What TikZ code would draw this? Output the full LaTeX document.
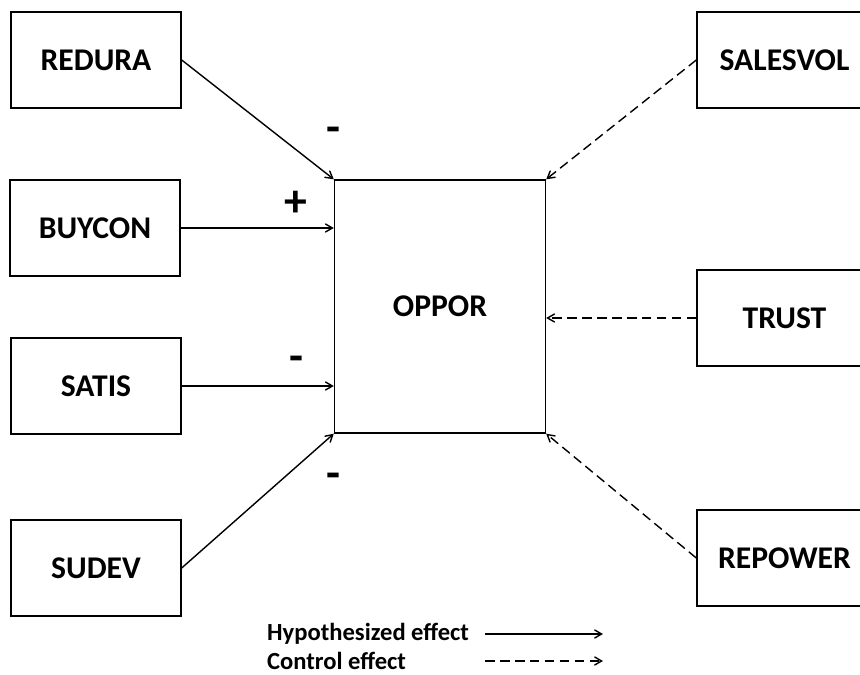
\documentclass[tikz,border=0pt]{standalone}
\usepackage{fontspec}
\setmainfont{Carlito}
\usepackage{tikz}
\usetikzlibrary{arrows, positioning}
\tikzset{
  varbox/.style={draw, line width=0.8pt, minimum width=170*0.02cm, minimum height=96*0.02cm, font=\fontsize{18}{20}\selectfont\bfseries},
  hypo/.style={->, line width=0.8pt},
  ctrl/.style={->, line width=0.8pt, dash pattern=on 5.5pt off 3pt},
  sign/.style={font=\fontsize{26}{28}\selectfont\bfseries, inner sep=0pt}
}

\begin{document}
\begin{tikzpicture}[x=0.02cm, y=-0.02cm, >=angle 60]
\clip (0,0) rectangle (860,675);
% predictors
\node[varbox] (redura) at (96,60) {REDURA};
\node[varbox] (buycon) at (95,228) {BUYCON};
\node[varbox] (satis) at (96,386) {SATIS};
\node[varbox] (sudev) at (96,568) {SUDEV};
% outcome
\node[varbox, minimum width=211*0.02cm, minimum height=253*0.02cm] (oppor) at (440,306.5) {OPPOR};
% controls
\node[varbox, minimum width=175*0.02cm] (salesvol) at (784.5,60) {SALESVOL\hspace{6pt}};
\node[varbox, minimum width=175*0.02cm] (trust) at (784.5,318) {TRUST\hspace{6pt}};
\node[varbox, minimum width=175*0.02cm] (repower) at (784.5,558) {REPOWER\hspace{6pt}};
% signs
\node[sign] (s1) at (333,135) {-};
\node[sign] (s2) at (296,204) {+};
\node[sign] (s3) at (296,364) {-};
\node[sign] (s4) at (333,481) {-};
% hypothesized effects
\draw[hypo] (redura.east) -- (oppor.north west);
\draw[hypo] (buycon) -- (buycon -| oppor.west);
\draw[hypo] (satis) -- (satis -| oppor.west);
\draw[hypo] (sudev.east) -- (oppor.south west);
% control effects
\draw[ctrl] (salesvol.west) -- (oppor.north east);
\draw[ctrl] (trust) -- (trust -| oppor.east);
\draw[ctrl] (repower.west) -- (oppor.south east);
% legend
\node[anchor=west, font=\fontsize{14}{16}\selectfont\bfseries] (lhypo) at (261,634) {Hypothesized effect};
\node[anchor=west, font=\fontsize{14}{16}\selectfont\bfseries] (lctrl) at (261,661) {Control effect};
\coordinate (hypoend) at (603,634);
\coordinate (ctrlend) at (603,661);
\draw[hypo] (hypoend -| 485,0) -- (hypoend);
\draw[ctrl] (ctrlend -| 485,0) -- (ctrlend);
\end{tikzpicture}
\end{document}
